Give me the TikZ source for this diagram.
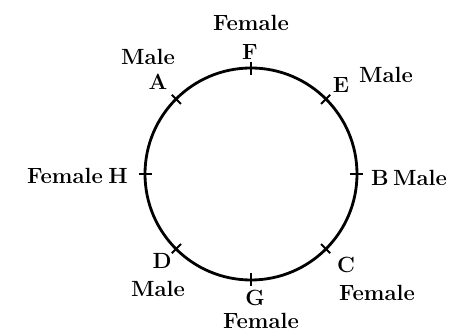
\documentclass[tikz,border=0pt]{standalone}
\usepackage{tikz}
\usetikzlibrary{calc}
\tikzset{
  seat/.style={line width=1.4pt},
  stick/.style={line width=1pt},
  pname/.style={font=\fontsize{11}{13}\selectfont\bfseries,inner sep=0.5pt},
  psex/.style={pname},
}

\begin{document}
\begin{tikzpicture}[x=0.5pt,y=0.5pt]
\useasboundingbox (0,0) rectangle (451,331);
\coordinate (O) at (251,157);
\draw[seat] (O) circle[radius=106];
% seats on the table
\foreach \a/\n in {90/F,45/E,0/B,315/C,270/G,225/D,180/H,135/A}{
  \coordinate (s\n) at ($(O)+(\a:106)$);
  \draw[stick] ($(O)+(\a:99)$) -- ($(O)+(\a:112)$);
}
\node[pname] (F) at (250,279) {F};
\node[psex] (Ft) at (251,308) {Female};
\node[pname] (A) at (158,249) {A};
\node[psex] (At) at (148,274) {Male};
\node[pname] (E) at (341,246) {E};
\node[psex] (Et) at (386,256) {Male};
\node[pname] (H) at (118,155) {H};
\node[psex] (Ht) at (65,155) {Female};
\node[pname] (B) at (380,153) {B};
\node[psex] (Bt) at (420,153) {Male};
\node[pname] (D) at (162,70) {D};
\node[psex] (Dt) at (158,42) {Male};
\node[pname] (G) at (255,33) {G};
\node[psex] (Gt) at (261,10) {Female};
\node[pname] (C) at (346,66) {C};
\node[psex] (Ct) at (377,38) {Female};
\end{tikzpicture}
\end{document}
